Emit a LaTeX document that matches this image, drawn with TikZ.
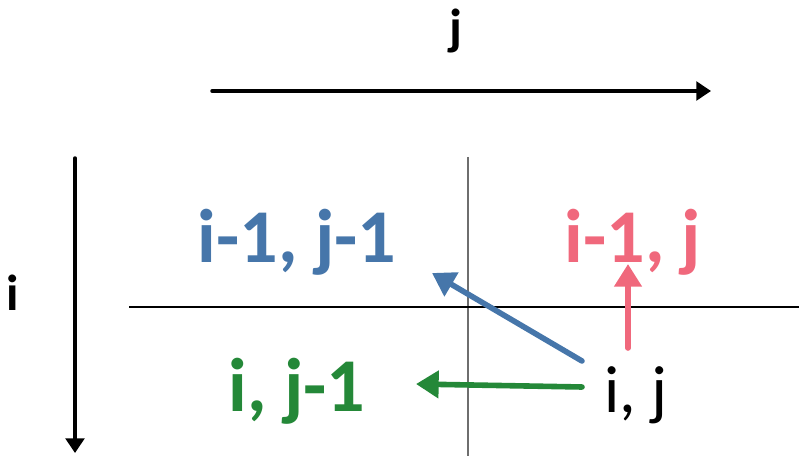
\documentclass[tikz,border=0pt]{standalone}
\usepackage{fontspec}
\setmainfont{Carlito}
\usepackage{xcolor}
\usepackage{tikz}
\usetikzlibrary{arrows.meta, positioning, calc}
\definecolor{cellblue}{RGB}{70,118,170}
\definecolor{cellpink}{RGB}{240,104,124}
\definecolor{cellgreen}{RGB}{36,136,56}
\definecolor{gridgray}{RGB}{110,110,110}
\tikzset{
  cell/.style={inner sep=0pt, anchor=base, font=\fontsize{57}{62}\selectfont\bfseries},
  axislabel/.style={inner sep=0pt, anchor=base, font=\fontsize{38}{44}\selectfont\bfseries},
  axis/.style={-{Triangle[length=11pt, width=14pt]}, line width=2.6pt, line cap=round},
  move/.style={-{Triangle[length=17pt, width=20pt]}, line width=4.2pt, line cap=round},
  grid/.style={line width=0.9pt}
}
\begin{document}
\begin{tikzpicture}[x=0.75pt, y=-0.75pt]
  \useasboundingbox (0,0) rectangle (799,456);

  % Axes
  \node[axislabel] (jlab) at (456,45) {j};
  \node[axislabel] (ilab) at (13,310) {i};
  \coordinate (jstart) at (212,91);
  \coordinate (jend) at (711,91);
  \coordinate (istart) at (75,158);
  \coordinate (iend) at (75,453);
  \draw[axis] (jstart) -- (jend);
  \draw[axis] (istart) -- (iend);

  % Grid lines
  \draw[grid, draw=gridgray] (468,157) -- (468,456);
  \draw[grid] (129,307) -- (799,307);

  % Cells
  \node[cell, text=cellblue] (diag) at (297,262) {i-1, j-1};
  \node[cell, text=cellpink] (up) at (633,262) {i-1, j};
  \node[cell, text=cellgreen] (left) at (297,411) {i, j-1};
  \node[inner sep=0pt, anchor=base, font=\fontsize{50}{56}\selectfont] (cur) at (636,412) {i, j};

  % Moves
  \coordinate (bstart) at (582,361);
  \coordinate (bend) at (432,273);
  \coordinate (gstart) at (582,387);
  \coordinate (gend) at (416,384);
  \coordinate (pstart) at (628,348);
  \coordinate (pend) at (628,264);
  \draw[move, cellblue] (bstart) -- (bend);
  \draw[move, cellgreen] (gstart) -- (gend);
  \draw[move, cellpink] (pstart) -- (pend);
\end{tikzpicture}
\end{document}
